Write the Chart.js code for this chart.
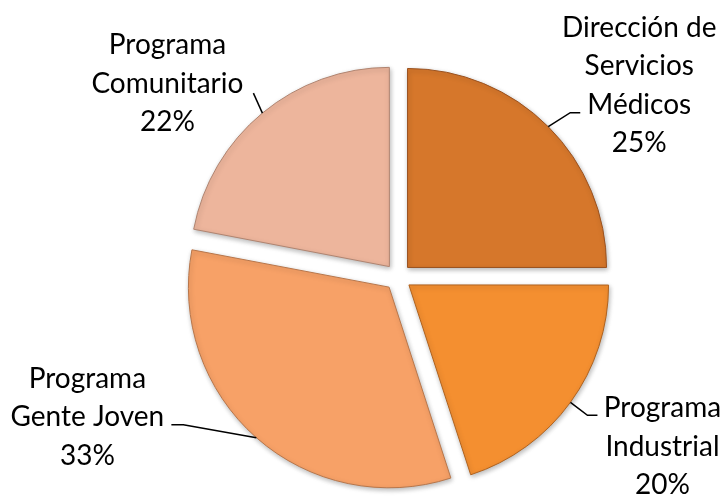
<!DOCTYPE html>
<html><head><meta charset="utf-8">
<script src="https://cdn.jsdelivr.net/npm/chart.js@4"></script>
<style>html,body{margin:0;padding:0;background:#fff}canvas{display:block}</style>
</head><body>
<canvas id="c" width="728" height="498"></canvas>
<script>
const categories = [["Dirección de","Servicios","Médicos"],["Programa","Industrial"],["Programa","Gente Joven"],["Programa","Comunitario"]];
const values = [25, 20, 33, 22];
const colors = ['#D6772B','#F48F30','#F7A167','#EDB59C'];
const borderColors = ['#9A5220','#B0621E','#B8764A','#B08470'];
// leader/label layout, relative to the leader start point on each slice
const leaderLayout = [
  {elbow:[22,-14], end:[32,-14], textX:91, baseY:-90},
  {elbow:[17,13], end:[27,13], textX:92, baseY:15},
  {elbow:[-73,-13], end:[-85,-13], textX:-169, baseY:-50},
  {elbow:[-9,-20], end:[-9,-20], textX:-95, baseY:-59}
];
const FONT = '28px Lato';
const LINE_H = 38.5;

const total = values.reduce((a,b)=>a+b,0);
const pctLabels = values.map(v => Math.round(v/total*100) + '%');

const labelPlugin = {
  id:'outLabels',
  beforeDatasetsDraw(chart){
    const ctx = chart.ctx;
    ctx.save();
    ctx.shadowColor = 'rgba(0,0,0,0.28)';
    ctx.shadowBlur = 5;
    ctx.shadowOffsetX = 1;
    ctx.shadowOffsetY = 2;
  },
  afterDatasetsDraw(chart){
    const ctx = chart.ctx;
    ctx.restore();
    const meta = chart.getDatasetMeta(0);
    meta.data.forEach((arc, i) => {
      const p = arc.getProps(['x','y','startAngle','endAngle','outerRadius','circumference'], true);
      const off = arc.options.offset || 0;
      const mid = (p.startAngle + p.endAngle)/2;
      const fix = 1 - Math.sin(Math.min(Math.PI, p.circumference));
      const t = off/4*(1+fix);
      const sx = p.x + Math.cos(mid)*(t + p.outerRadius);
      const sy = p.y + Math.sin(mid)*(t + p.outerRadius);
      const L = leaderLayout[i];
      ctx.save();
      ctx.strokeStyle = '#000';
      ctx.lineWidth = 1.5;
      ctx.beginPath();
      ctx.moveTo(sx, sy);
      ctx.lineTo(sx + L.elbow[0], sy + L.elbow[1]);
      ctx.lineTo(sx + L.end[0], sy + L.end[1]);
      ctx.stroke();
      ctx.fillStyle = '#000';
      ctx.font = FONT;
      ctx.textAlign = 'center';
      ctx.textBaseline = 'alphabetic';
      const lines = categories[i].concat([pctLabels[i]]);
      lines.forEach((ln, k) => {
        ctx.fillText(ln, sx + L.textX, sy + L.baseY + k*LINE_H);
      });
      ctx.restore();
    });
  }
};

new Chart(document.getElementById('c'), {
  type:'pie',
  data:{
    labels: categories.map(c => c.join(' ')),
    datasets:[{
      data: values,
      backgroundColor: colors,
      borderColor: borderColors,
      borderWidth: 1,
      offset: 54
    }]
  },
  options:{
    responsive:false,
    animation:false,
    radius: 199,
    layout:{padding:{left:186,right:118,top:65,bottom:9}},
    plugins:{legend:{display:false}, tooltip:{enabled:false}}
  },
  plugins:[labelPlugin]
});
</script>
</body></html>
